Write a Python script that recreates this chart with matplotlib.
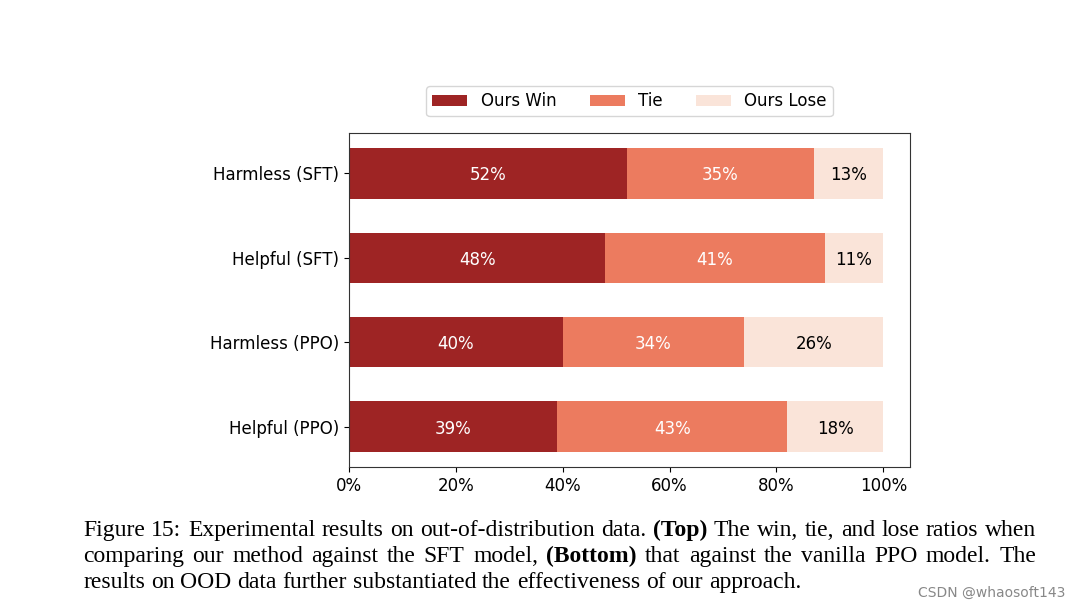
import matplotlib
matplotlib.use("Agg")
import matplotlib.pyplot as plt
from matplotlib.ticker import FuncFormatter

plt.rcParams["font.family"] = ["DejaVu Sans"]

categories = ["Harmless (SFT)", "Helpful (SFT)", "Harmless (PPO)", "Helpful (PPO)"]
win = [52, 48, 40, 39]
tie = [35, 41, 34, 43]
lose = [13, 11, 26, 18]
series_names = ["Ours Win", "Tie", "Ours Lose"]
colors = ["#9E2424", "#EC7B5F", "#FAE4D9"]
text_colors = ["white", "white", "black"]
xticks = [0, 20, 40, 60, 80, 100]

fig = plt.figure(figsize=(10.8, 6.09), dpi=100)
W, H = 1080, 609
ax = fig.add_axes([349/W, 1-467/H, (910-349)/W, (467-133)/H])

ypos = list(range(len(categories)))
left = [0]*len(categories)
handles = []
for vals, name, c, tc in zip([win, tie, lose], series_names, colors, text_colors):
    bars = ax.barh(ypos, vals, left=left, height=0.6, color=c, label=name)
    handles.append(bars)
    for y, v, l in zip(ypos, vals, left):
        ax.text(l + v/2, y, f"{v}%", ha="center", va="center_baseline", color=tc, fontsize=12)
    left = [a+b for a, b in zip(left, vals)]

ax.set_yticks(ypos)
ax.set_yticklabels(categories, fontsize=12)
ax.invert_yaxis()
ax.set_xlim(0, 105)
ax.set_xticks(xticks)
ax.xaxis.set_major_formatter(FuncFormatter(lambda v, p: f"{v:.0f}%"))
ax.tick_params(axis="x", labelsize=12)
for s in ax.spines.values():
    s.set_color("#333333")

leg = ax.legend(handles=handles, labels=series_names, ncol=3, loc="lower center",
                bbox_to_anchor=(0.5, 1 + 17/334), borderaxespad=0, fontsize=12,
                frameon=True, handlelength=2.1, columnspacing=2.0, borderpad=0.35)

# caption (justified like LaTeX)
serif = "Liberation Serif"
lines = [
    [("Figure 15: Experimental results on out-of-distribution data.", "normal"), ("(Top)", "bold"),
     ("The win, tie, and lose ratios when", "normal")],
    [("comparing our method against the SFT model,", "normal"), ("(Bottom)", "bold"),
     ("that against the vanilla PPO model. The", "normal")],
    [("results on OOD data further substantiated the effectiveness of our approach.", "normal")],
]
justify = [True, True, False]
baselines = [536, 562, 588]
x0, x1, x_last = 83, 1036, 808

renderer = fig.canvas.get_renderer()

def tokens(line):
    out = []
    for txt, w in line:
        for word in txt.split(" "):
            if word:
                out.append((word, w))
    return out

def width(s, fs, w):
    t = fig.text(0, 0, s, fontsize=fs, family=serif, weight=w)
    wd = t.get_window_extent(renderer).width
    t.remove()
    return wd

def space_w(fs):
    return width("a a", fs, "normal") - width("aa", fs, "normal")

fs0 = 15.0
toks = tokens(lines[2])
nat = sum(width(wd, fs0, w) for wd, w in toks) + space_w(fs0)*(len(toks)-1)
fs = fs0 * (x_last - x0) / nat

for line, just, yb in zip(lines, justify, baselines):
    toks = tokens(line)
    widths = [width(wd, fs, w) for wd, w in toks]
    if just and len(toks) > 1:
        gap = ((x1 - x0) - sum(widths)) / (len(toks) - 1)
    else:
        gap = space_w(fs)
    x = x0
    for (wd, w), wpx in zip(toks, widths):
        fig.text(x/W, 1-yb/H, wd, fontsize=fs, family=serif, weight=w,
                 ha="left", va="baseline")
        x += wpx + gap

fig.text(1065/W, 1-597/H, "CSDN @whaosoft143", fontsize=10, color="#888888",
         ha="right", va="baseline")

fig.savefig("out.png", dpi=100)
